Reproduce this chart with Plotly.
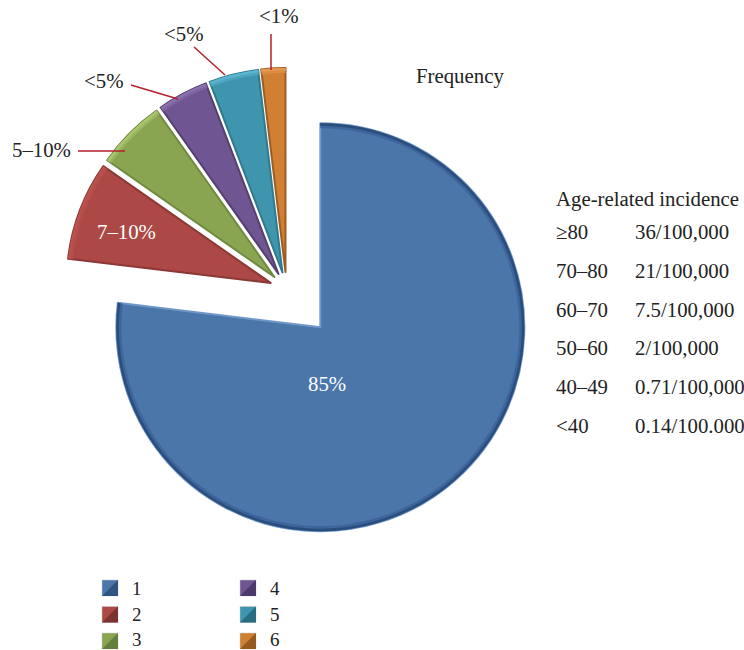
import plotly.graph_objects as go

# ---- data ----
slice_names = ["1", "2", "3", "4", "5", "6"]
slice_shares = [76.9, 7.8, 5.5, 4.0, 3.9, 1.9]
slice_colors = ["#4a76aa", "#ac4845", "#89a551", "#6f5592", "#3f95ad", "#d07f33"]
edge_colors = ["#6f97c8", "#8c3836", "#6f8a3e", "#54406f", "#2f7a8e", "#9c5d22"]
rim_outer = ["#2b4d7c", "#b9524f", "#a9c66f", "#8b72ac", "#5bb5cf", "#e39a50"]
rim_inner = ["#3d659b", "#b34e4b", "#99b660", "#7d64a0", "#4da6bf", "#da8c41"]
swatch_dark = ["#2f5480", "#7c3331", "#62803a", "#4c3a6a", "#2a6c80", "#96591f"]
pct_outside = ["5–10%", "<5%", "<5%", "<1%"]
pct_inside = ["85%", "7–10%"]
age_groups = ["≥80", "70–80", "60–70", "50–60", "40–49", "<40"]
age_rates = ["36/100,000", "21/100,000", "7.5/100,000", "2/100,000", "0.71/100,000", "0.14/100.000"]
freq_title = "Frequency"
table_title = "Age-related incidence"

# ---- layout constants (pixels in the 744x650 page) ----
W, H = 744, 650
CX, CY = 286.5, 289.0   # true pie centre
R = 204.0
BLUE_PULL_PX, OTHER_PULL_PX = 51.0, 17.0
FONT = "Liberation Serif"
TEXT = "#222222"
SIZE = 20.8
PAD = 2                 # annotation inner padding


def px(x):
    return x / W


def py(y):
    return 1 - y / H


def pie_layer(colors, line_colors, line_width, hole):
    big = BLUE_PULL_PX / R
    small = OTHER_PULL_PX / R
    half = R * (1 + big)
    return go.Pie(
        labels=slice_names,
        values=slice_shares,
        sort=False,
        direction="clockwise",
        rotation=0,
        hole=hole,
        pull=[big] + [small] * 5,
        textinfo="none",
        hoverinfo="label+percent",
        showlegend=False,
        marker=dict(colors=colors, line=dict(color=line_colors, width=line_width)),
        domain=dict(x=[px(CX - half), px(CX + half)], y=[py(CY + half), py(CY - half)]),
    )


fig = go.Figure([
    pie_layer(slice_colors, edge_colors, 2, 0),
    pie_layer(rim_inner, rim_inner, 0, 1 - 5.0 / R),
    pie_layer(rim_outer, rim_outer, 0, 1 - 2.5 / R),
])

annotations = []


def add_text(x, y, text, color=TEXT, anchor="left", size=SIZE):
    annotations.append(dict(
        x=px(x - PAD if anchor == "left" else x), y=py(y), xref="paper", yref="paper",
        text=text, showarrow=False,
        xanchor=anchor, yanchor="middle", align=anchor,
        font=dict(family=FONT, size=size, color=color),
    ))


# labels on and around the pie
for (x, y), t in zip([(327, 383), (127, 232)], pct_inside):
    add_text(x, y, t, color="white", anchor="center")
for (x, y), t in zip([(41, 149), (104, 80), (183, 33), (278, 15)], pct_outside):
    add_text(x, y, t, anchor="center")
add_text(416, 76, freq_title)

# incidence table
add_text(556, 199, table_title)
for i, (a, r) in enumerate(zip(age_groups, age_rates)):
    y = 232 + i * 38.6
    add_text(556, y, a)
    add_text(635, y, r)

shapes = []
# leader lines
for x0, y0, x1, y1 in [(78, 151, 125, 151), (131, 85, 178, 99), (194, 47, 225, 75), (271, 34, 271, 70)]:
    shapes.append(dict(type="line", xref="paper", yref="paper",
                       x0=px(x0), y0=py(y0), x1=px(x1), y1=py(y1),
                       line=dict(color="#b5202a", width=1.5)))

# legend
for i, name in enumerate(slice_names):
    col, row = i // 3, i % 3
    left = 102 + col * 138
    cy = 588 + row * 26.5
    s = 8
    x0, x1, y0, y1 = px(left), px(left + 2 * s), py(cy + s), py(cy - s)
    mx, my = px(left + s), py(cy)
    shapes.append(dict(type="rect", xref="paper", yref="paper", x0=x0, x1=x1, y0=y0, y1=y1,
                       fillcolor=slice_colors[i], line=dict(color="#c8c8c8", width=0.5)))
    shapes.append(dict(type="path", xref="paper", yref="paper",
                       path=f"M{x0:.5f},{y0:.5f}L{mx:.5f},{my:.5f}L{x1:.5f},{y1:.5f}L{x1:.5f},{y0:.5f}Z",
                       fillcolor=swatch_dark[i], line=dict(width=0)))
    add_text(left + 30, cy - 2 if row == 2 else cy, name, size=19)

fig.update_layout(
    width=W, height=H,
    margin=dict(l=0, r=0, t=0, b=0),
    paper_bgcolor="white",
    annotations=annotations,
    shapes=shapes,
)
fig.write_html("out.html", config=dict(displayModeBar=False),
               post_script="document.body.style.margin='0';")
